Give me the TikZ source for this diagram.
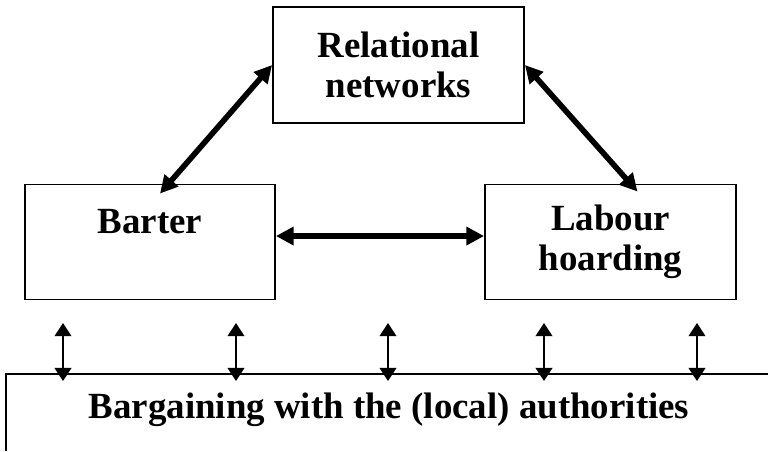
\documentclass[tikz,border=0pt]{standalone}
\usepackage{fontspec}
\setmainfont{Liberation Serif}
\usepackage{tikz}
\usetikzlibrary{arrows.meta}
\tikzstyle{box} = [draw, line width=1.1pt, rectangle, align=center, inner sep=0pt, font=\fontsize{21}{23}\selectfont\bfseries]
\tikzstyle{tie} = [line width=3.2pt, {Triangle[length=10pt,width=10pt]}-{Triangle[length=10pt,width=10pt]}]
\tikzstyle{tick} = [line width=1.1pt, {Triangle[length=7.5pt,width=9.5pt]}-{Triangle[length=7.5pt,width=9.5pt]}]

\begin{document}
\begin{tikzpicture}[x=0.02cm, y=-0.02cm]
    \useasboundingbox (0,0) rectangle (768,451);
    \node[box, minimum width=5.02cm, minimum height=2.32cm] (rel) at (398.5,65) {Relational\\networks};
    \node[box, minimum width=5cm, minimum height=2.3cm] (barter) at (150,242) {Barter\\~};
    \node[box, minimum width=5.02cm, minimum height=2.3cm] (labour) at (610.5,242) {Labour\\hoarding};
    \node[font=\fontsize{21}{23}\selectfont\bfseries] (bargain) at (389,410) {Bargaining with the (local) authorities};
    \coordinate (frame) at (6,374);
    \draw[line width=1.1pt] (6,451) |- (768,374);
    \draw[tie] (rel.west) -- ([shift={(10,10)}]barter.north);
    \draw[tie] (rel.east) -- ([shift={(27,8)}]labour.north);
    \draw[tie] ([yshift=3.4pt]barter.east) -- ([yshift=3.4pt]labour.west);
    \foreach \x [count=\i] in {63,236,388,544,697}
        {\coordinate (up\i) at (\x,323);
         \draw[tick] (up\i) -- ([yshift=-4pt]up\i |- frame);}
\end{tikzpicture}
\end{document}
